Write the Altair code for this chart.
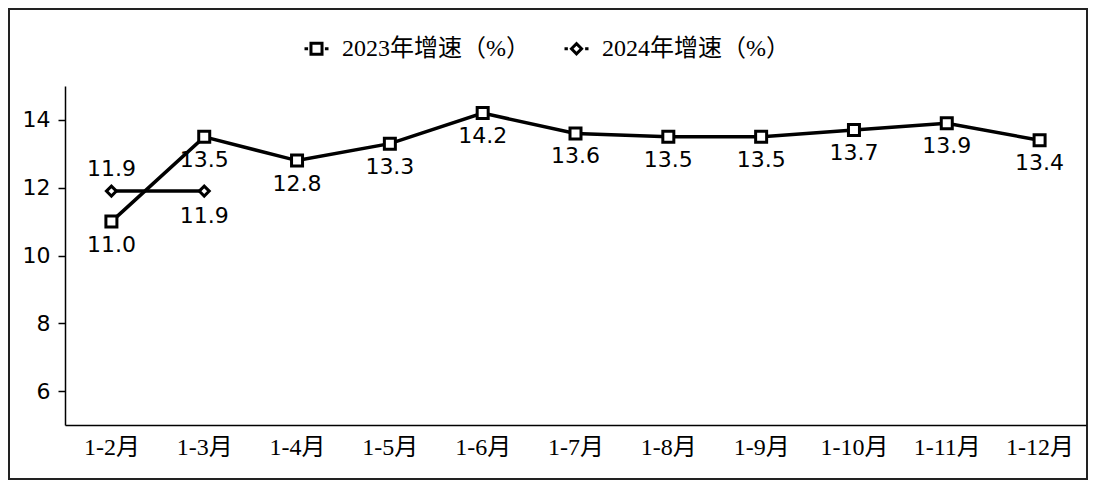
import altair as alt
import pandas as pd

months = ["1-2月", "1-3月", "1-4月", "1-5月", "1-6月", "1-7月", "1-8月", "1-9月", "1-10月", "1-11月", "1-12月"]
growth_2023 = [11.0, 13.5, 12.8, 13.3, 14.2, 13.6, 13.5, 13.5, 13.7, 13.9, 13.4]
growth_2024 = [11.9, 11.9]
series_names = ["2023年增速（%）", "2024年增速（%）"]

rows = []
for m, v in zip(months, growth_2023):
    rows.append({"month": m, "value": v, "series": series_names[0]})
for m, v in zip(months, growth_2024):
    rows.append({"month": m, "value": v, "series": series_names[1]})
df = pd.DataFrame(rows)

SERIF = "Liberation Serif, Noto Sans CJK SC"
SANS = "DejaVu Sans"

x_enc = alt.X(
    "month:O",
    sort=months,
    scale=alt.Scale(type="point", padding=0.5, range=[56, 1077]),
    axis=alt.Axis(
        title=None, orient="bottom", offset=-54, ticks=False, labelAngle=0,
        labelFont=SERIF, labelFontSize=24, labelColor="black", labelPadding=10,
        domainColor="black", domainWidth=1.5, grid=False,
    ),
)
y_enc = alt.Y(
    "value:Q",
    scale=alt.Scale(domain=[5, 15], range=[416, 77], nice=False, zero=False),
    axis=alt.Axis(
        title=None, orient="left", offset=-56, values=[6, 8, 10, 12, 14],
        labelFont=SANS, labelFontSize=22, labelColor="black", labelPadding=8,
        tickSize=7, tickColor="black", tickWidth=1.5,
        domainColor="black", domainWidth=1.5, grid=False,
    ),
)

base = alt.Chart(df)

lines = base.mark_line(color="black", strokeWidth=3.5).encode(
    x=x_enc, y=y_enc, detail="series:N"
)

points = base.mark_point(filled=True, fill="white", stroke="black", strokeWidth=3, opacity=1, fillOpacity=1, strokeOpacity=1).encode(
    x=x_enc, y=y_enc,
    shape=alt.Shape("series:N", scale=alt.Scale(domain=series_names, range=["square", "diamond"]), legend=None),
    size=alt.Size("series:N", scale=alt.Scale(domain=series_names, range=[121, 100]), legend=None),
)

lab23 = base.transform_filter(alt.datum.series == series_names[0]).mark_text(
    font=SANS, fontSize=22, color="black", baseline="middle", dy=23
).encode(x=x_enc, y=y_enc, text=alt.Text("value:Q", format=".1f"))

lab24a = base.transform_filter(
    (alt.datum.series == series_names[1]) & (alt.datum.month == months[0])
).mark_text(font=SANS, fontSize=22, color="black", baseline="middle", dy=-22).encode(
    x=x_enc, y=y_enc, text=alt.Text("value:Q", format=".1f")
)

lab24b = base.transform_filter(
    (alt.datum.series == series_names[1]) & (alt.datum.month == months[1])
).mark_text(font=SANS, fontSize=22, color="black", baseline="middle", dy=25).encode(
    x=x_enc, y=y_enc, text=alt.Text("value:Q", format=".1f")
)

sq_path = "M-1,0H-0.7M-0.46,-0.46H0.46V0.46H-0.46ZM0.7,0H1"
di_path = "M-1,0H-0.72M-0.42,0L0,-0.42L0.42,0L0,0.42ZM0.72,0H1"

legend_layer = base.mark_point(opacity=0, color="black", strokeWidth=3, size=576).encode(
    x=x_enc, y=y_enc,
    shape=alt.Shape(
        "series:N",
        scale=alt.Scale(domain=series_names, range=[sq_path, di_path]),
        legend=alt.Legend(
            title=None, orient="none", legendX=294, legendY=26, direction="horizontal",
            labelFont=SERIF, labelFontSize=24, labelColor="black", labelOffset=12,
            labelLimit=400,
            symbolSize=576, symbolStrokeWidth=3, symbolStrokeColor="black",
            symbolOpacity=1, columnPadding=28, padding=0,
        ),
    ),
)

chart = alt.layer(lines, points, lab23, lab24a, lab24b, legend_layer).resolve_scale(
    shape="independent", size="independent"
).properties(
    width=1078, height=470,
    padding={"left": 1, "top": 1, "right": 1, "bottom": 1},
    autosize=alt.AutoSizeParams(type="none"),
    background="white",
).configure_view(
    stroke="#222222", strokeWidth=2
)

chart.save("out.html", embed_options={"renderer": "svg", "actions": False})
